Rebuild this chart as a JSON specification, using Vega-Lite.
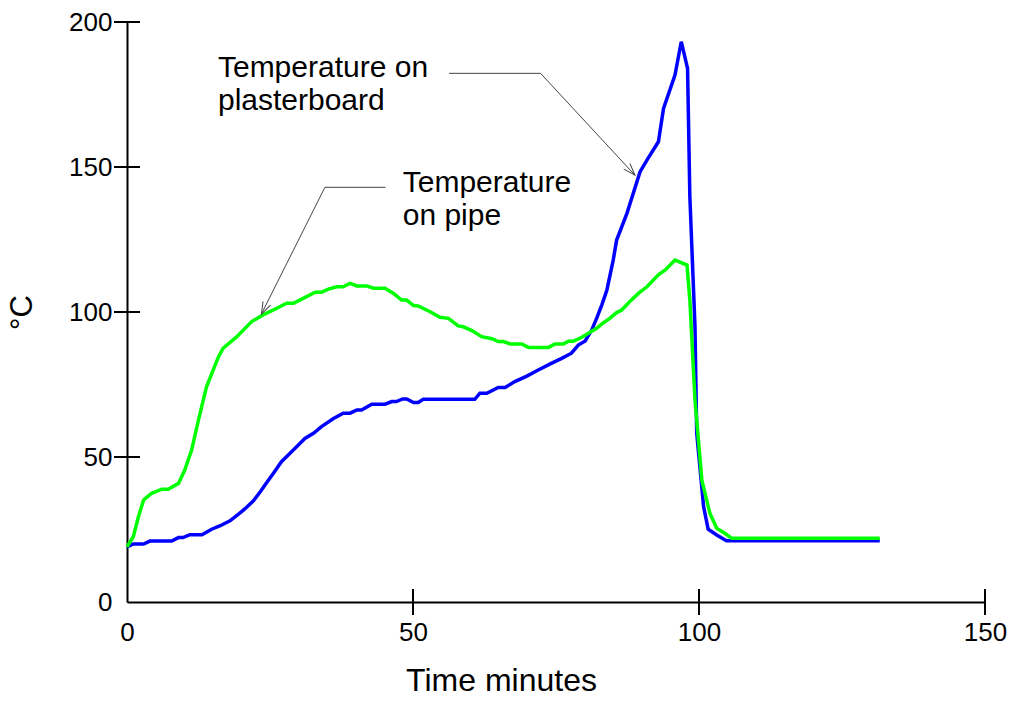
{
  "$schema": "https://vega.github.io/schema/vega-lite/v6.json",
  "width": 858,
  "height": 580,
  "autosize": "none",
  "padding": {"left": 127, "top": 22, "right": 25, "bottom": 102},
  "background": "white",
  "config": {
    "view": {"stroke": null},
    "font": "Liberation Sans",
    "axis": {
      "domainColor": "black",
      "domainWidth": 2,
      "ticks": false,
      "labelColor": "black",
      "labelFont": "Liberation Sans",
      "labelFontSize": 26,
      "labelFlush": false,
      "titleFont": "Liberation Sans",
      "titleFontWeight": "normal",
      "titleColor": "black",
      "titleFontSize": 30,
      "grid": false
    }
  },
  "datasets": {
    "plaster": [
      {"t": 0, "temp": 19}, {"t": 1.1, "temp": 20}, {"t": 2.9, "temp": 20}, {"t": 4.0, "temp": 21},
      {"t": 7.8, "temp": 21}, {"t": 9.0, "temp": 22.2}, {"t": 9.8, "temp": 22.2}, {"t": 11.0, "temp": 23.2},
      {"t": 13.1, "temp": 23.2}, {"t": 14.8, "temp": 25.1}, {"t": 16.3, "temp": 26.3}, {"t": 18.0, "temp": 28},
      {"t": 19.5, "temp": 30.3}, {"t": 20.6, "temp": 32.1}, {"t": 22.1, "temp": 34.9}, {"t": 23.3, "temp": 38},
      {"t": 24.4, "temp": 41.1}, {"t": 25.6, "temp": 44.4}, {"t": 27.0, "temp": 48.4}, {"t": 28.5, "temp": 51.3},
      {"t": 29.7, "temp": 53.6}, {"t": 31.1, "temp": 56.4}, {"t": 32.6, "temp": 58.2}, {"t": 34.0, "temp": 60.5},
      {"t": 36.1, "temp": 63.3}, {"t": 37.8, "temp": 65.1}, {"t": 39.0, "temp": 65.1}, {"t": 40.2, "temp": 66.2},
      {"t": 41.0, "temp": 66.2}, {"t": 42.8, "temp": 68.2}, {"t": 45.1, "temp": 68.2}, {"t": 46.3, "temp": 69.1},
      {"t": 47.1, "temp": 69.1}, {"t": 48.2, "temp": 70.0}, {"t": 48.9, "temp": 70.0}, {"t": 50.1, "temp": 68.8},
      {"t": 50.9, "temp": 68.8}, {"t": 51.8, "temp": 69.9}, {"t": 60.8, "temp": 69.9}, {"t": 61.7, "temp": 72.0},
      {"t": 62.9, "temp": 72.0}, {"t": 64.9, "temp": 74.0}, {"t": 66.1, "temp": 74.0}, {"t": 67.8, "temp": 76.0},
      {"t": 69.9, "temp": 77.9}, {"t": 71.9, "temp": 80.0}, {"t": 74.0, "temp": 82.1}, {"t": 76.0, "temp": 84.0},
      {"t": 77.7, "temp": 85.8}, {"t": 78.9, "temp": 88.6}, {"t": 80.1, "temp": 90.0}, {"t": 81.2, "temp": 93.6},
      {"t": 82.1, "temp": 97.8}, {"t": 83.0, "temp": 102.4}, {"t": 83.9, "temp": 107.6}, {"t": 85.0, "temp": 117.9},
      {"t": 85.6, "temp": 124.8}, {"t": 87.4, "temp": 134.0}, {"t": 89.7, "temp": 148.4}, {"t": 90.9, "temp": 152.4},
      {"t": 92.9, "temp": 158.7}, {"t": 93.8, "temp": 170.2}, {"t": 95.8, "temp": 181.7}, {"t": 96.9, "temp": 193.2},
      {"t": 98.0, "temp": 184.0}, {"t": 98.4, "temp": 139.8}, {"t": 99.3, "temp": 94.9}, {"t": 99.6, "temp": 58.2},
      {"t": 100.8, "temp": 32.9}, {"t": 101.6, "temp": 25.1}, {"t": 103.1, "temp": 23.1}, {"t": 104.8, "temp": 21.1},
      {"t": 131.6, "temp": 21.1}
    ],
    "pipe": [
      {"t": 0, "temp": 19}, {"t": 1.1, "temp": 22.5}, {"t": 2.0, "temp": 29.4}, {"t": 2.9, "temp": 35.2},
      {"t": 4.3, "temp": 37.5}, {"t": 6.1, "temp": 38.9}, {"t": 7.2, "temp": 38.9}, {"t": 9.0, "temp": 40.9},
      {"t": 10.1, "temp": 45.5}, {"t": 11.3, "temp": 52.4}, {"t": 12.5, "temp": 62.8}, {"t": 13.9, "temp": 74.2},
      {"t": 16.0, "temp": 84.6}, {"t": 16.8, "temp": 87.5}, {"t": 19.2, "temp": 91.5}, {"t": 21.8, "temp": 96.7},
      {"t": 23.8, "temp": 99.0}, {"t": 26.2, "temp": 101.3}, {"t": 27.9, "temp": 103.0}, {"t": 29.1, "temp": 103.0},
      {"t": 30.8, "temp": 104.7}, {"t": 32.9, "temp": 106.8}, {"t": 34.0, "temp": 106.8}, {"t": 35.2, "temp": 107.9},
      {"t": 36.7, "temp": 108.7}, {"t": 37.8, "temp": 108.7}, {"t": 39.0, "temp": 109.9}, {"t": 40.2, "temp": 109.0},
      {"t": 41.9, "temp": 109.0}, {"t": 43.1, "temp": 108.2}, {"t": 45.1, "temp": 108.2}, {"t": 46.6, "temp": 106.4},
      {"t": 48.0, "temp": 104.1}, {"t": 48.9, "temp": 104.1}, {"t": 50.1, "temp": 102.2}, {"t": 50.9, "temp": 102.1},
      {"t": 53.0, "temp": 100.1}, {"t": 54.7, "temp": 98.2}, {"t": 56.2, "temp": 97.8}, {"t": 57.9, "temp": 95.2},
      {"t": 58.8, "temp": 94.9}, {"t": 60.3, "temp": 93.6}, {"t": 62.0, "temp": 91.5}, {"t": 63.8, "temp": 90.8},
      {"t": 64.9, "temp": 89.8}, {"t": 65.8, "temp": 89.8}, {"t": 67.0, "temp": 89.0}, {"t": 69.0, "temp": 89.0},
      {"t": 70.2, "temp": 87.8}, {"t": 73.7, "temp": 87.8}, {"t": 74.8, "temp": 89.0}, {"t": 76.3, "temp": 89.0},
      {"t": 77.2, "temp": 89.9}, {"t": 78.0, "temp": 89.9}, {"t": 79.5, "temp": 91.3}, {"t": 80.9, "temp": 92.9},
      {"t": 82.1, "temp": 94.4}, {"t": 83.3, "temp": 96.3}, {"t": 84.4, "temp": 97.8}, {"t": 85.6, "temp": 99.8},
      {"t": 86.5, "temp": 100.7}, {"t": 87.9, "temp": 103.6}, {"t": 89.4, "temp": 106.4}, {"t": 90.9, "temp": 108.7},
      {"t": 92.9, "temp": 112.8}, {"t": 94.1, "temp": 114.5}, {"t": 95.8, "temp": 117.9}, {"t": 97.9, "temp": 116.2},
      {"t": 98.4, "temp": 104.1}, {"t": 99.3, "temp": 69.7}, {"t": 100.5, "temp": 42}, {"t": 101.9, "temp": 30.6},
      {"t": 103.1, "temp": 25.4}, {"t": 104.5, "temp": 23.7}, {"t": 105.7, "temp": 22.0}, {"t": 131.6, "temp": 22.0}
    ],
    "leaders": [
      {"id": "plasterboard", "ord": 1, "t": 56.3, "temp": 182.3},
      {"id": "plasterboard", "ord": 2, "t": 72.3, "temp": 182.3},
      {"id": "plasterboard", "ord": 3, "t": 88.8, "temp": 147.2},
      {"id": "pipe", "ord": 1, "t": 45.2, "temp": 143.0},
      {"id": "pipe", "ord": 2, "t": 34.6, "temp": 143.0},
      {"id": "pipe", "ord": 3, "t": 23.5, "temp": 99.3}
    ],
    "notes": [
      {"t": 15.9, "temp": 181.0, "text": "Temperature on"},
      {"t": 15.9, "temp": 169.7, "text": "plasterboard"},
      {"t": 48.2, "temp": 141.5, "text": "Temperature"},
      {"t": 48.2, "temp": 130.0, "text": "on pipe"}
    ],
    "tipPlaster": [{"t": 88.8, "temp": 147.2}],
    "tipPipe": [{"t": 23.5, "temp": 99.3}],
    "xticks": [{"t": 50}, {"t": 100}, {"t": 150}],
    "yticks": [{"temp": 50}, {"temp": 100}, {"temp": 150}, {"temp": 200}]
  },
  "layer": [
    {
      "data": {"name": "plaster"},
      "mark": {"type": "line", "color": "#0000ff", "strokeWidth": 3.5},
      "encoding": {
        "x": {
          "field": "t", "type": "quantitative",
          "scale": {"domain": [0, 150], "nice": false},
          "axis": {
            "orient": "bottom", "values": [0, 50, 100, 150], "labelPadding": 17,
            "title": "Time minutes", "titlePadding": 20, "titleFontSize": 32, "titleX": 374
          }
        },
        "y": {
          "field": "temp", "type": "quantitative",
          "scale": {"domain": [0, 200], "nice": false},
          "axis": {
            "orient": "left", "values": [0, 50, 100, 150, 200], "labelPadding": 15,
            "title": "°C", "titlePadding": 30, "titleFontSize": 31
          }
        }
      }
    },
    {
      "data": {"name": "pipe"},
      "mark": {"type": "line", "color": "#00ff00", "strokeWidth": 3.5},
      "encoding": {
        "x": {"field": "t", "type": "quantitative", "scale": {"domain": [0, 150], "nice": false}},
        "y": {"field": "temp", "type": "quantitative", "scale": {"domain": [0, 200], "nice": false}}
      }
    },
    {
      "data": {"name": "xticks"},
      "mark": {"type": "tick", "orient": "vertical", "size": 26, "thickness": 2, "color": "black", "opacity": 1},
      "encoding": {
        "x": {"field": "t", "type": "quantitative", "scale": {"domain": [0, 150], "nice": false}},
        "y": {"datum": 0, "type": "quantitative", "scale": {"domain": [0, 200], "nice": false}}
      }
    },
    {
      "data": {"name": "yticks"},
      "mark": {"type": "tick", "orient": "horizontal", "size": 26, "thickness": 2, "color": "black", "opacity": 1},
      "encoding": {
        "x": {"datum": 0, "type": "quantitative", "scale": {"domain": [0, 150], "nice": false}},
        "y": {"field": "temp", "type": "quantitative", "scale": {"domain": [0, 200], "nice": false}}
      }
    },
    {
      "data": {"name": "leaders"},
      "mark": {"type": "line", "color": "#444444", "strokeWidth": 1},
      "encoding": {
        "x": {"field": "t", "type": "quantitative", "scale": {"domain": [0, 150], "nice": false}},
        "y": {"field": "temp", "type": "quantitative", "scale": {"domain": [0, 200], "nice": false}},
        "detail": {"field": "id"},
        "order": {"field": "ord"}
      }
    },
    {
      "data": {"name": "tipPlaster"},
      "mark": {"type": "point", "shape": "M -1 -0.35 L 0 0 L -1 0.35", "filled": false, "stroke": "#444444", "strokeWidth": 1, "size": 576, "angle": 47.2, "opacity": 1},
      "encoding": {
        "x": {"field": "t", "type": "quantitative", "scale": {"domain": [0, 150], "nice": false}},
        "y": {"field": "temp", "type": "quantitative", "scale": {"domain": [0, 200], "nice": false}}
      }
    },
    {
      "data": {"name": "tipPipe"},
      "mark": {"type": "point", "shape": "M -1 -0.35 L 0 0 L -1 0.35", "filled": false, "stroke": "#444444", "strokeWidth": 1, "size": 576, "angle": 116.6, "opacity": 1},
      "encoding": {
        "x": {"field": "t", "type": "quantitative", "scale": {"domain": [0, 150], "nice": false}},
        "y": {"field": "temp", "type": "quantitative", "scale": {"domain": [0, 200], "nice": false}}
      }
    },
    {
      "data": {"name": "notes"},
      "mark": {"type": "text", "align": "left", "baseline": "alphabetic", "fontSize": 30, "color": "black", "font": "Liberation Sans"},
      "encoding": {
        "x": {"field": "t", "type": "quantitative", "scale": {"domain": [0, 150], "nice": false}},
        "y": {"field": "temp", "type": "quantitative", "scale": {"domain": [0, 200], "nice": false}},
        "text": {"field": "text"}
      }
    }
  ]
}
